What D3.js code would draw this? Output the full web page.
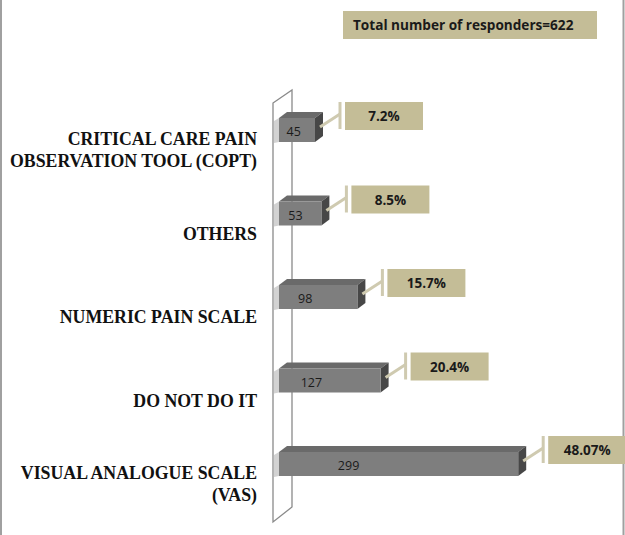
<!DOCTYPE html>
<html>
<head>
<meta charset="utf-8">
<script src="https://cdn.jsdelivr.net/npm/d3@7"></script>
<style>
  body { margin: 0; background: #fff; }
  svg { display: block; }
</style>
</head>
<body>
<div class="d3-container"></div>
<script>
const w = 625
const h = 535

// data
const categories = [
    ['CRITICAL CARE PAIN', 'OBSERVATION TOOL (COPT)'],
    ['OTHERS'],
    ['NUMERIC PAIN SCALE'],
    ['DO NOT DO IT'],
    ['VISUAL ANALOGUE SCALE', '(VAS)']
]
const counts = [45, 53, 98, 127, 299]
const percents = ['7.2%', '8.5%', '15.7%', '20.4%', '48.07%']
const total = 622

const svg = d3.select('.d3-container')
    .append('svg')
    .attr('width', w)
    .attr('height', h)

// outer frame (left/right edges)
svg.append('line').attr('x1', 1).attr('x2', 1).attr('y1', 0).attr('y2', h)
    .attr('stroke', '#a0a0a0').attr('stroke-width', 2)
svg.append('line').attr('x1', 623.5).attr('x2', 623.5).attr('y1', 0).attr('y2', h)
    .attr('stroke', '#a0a0a0').attr('stroke-width', 2)

const x = d3.scaleLinear().domain([0, 300]).range([279, 519])
const y = d3.scalePoint().domain(d3.range(categories.length)).range([130, 464])

const barH = 24
const dx = 8   // depth offsets for the 3d look
const dy = 6

// wall
svg.append('path')
    .attr('d', `M273,103 L292,90 L292,507 L273,522 Z`)
    .attr('fill', '#fff')
    .attr('stroke', '#8a8a8a')
    .attr('stroke-width', 1.3)

// total box
svg.append('rect')
    .attr('x', 343).attr('y', 11)
    .attr('width', 254).attr('height', 28)
    .attr('fill', '#c4bd97')
svg.append('text')
    .attr('x', 353).attr('y', 30)
    .attr('font-family', 'Open Sans, sans-serif')
    .attr('font-size', 13.6)
    .attr('font-weight', 'bold')
    .attr('fill', '#1a1a1a')
    .text('Total number of responders=' + total)

const rows = svg.append('g')
    .selectAll('g')
    .data(counts)
    .join('g')

// bars
rows.each(function (d, i) {
    const g = d3.select(this)
    const x0 = x(0)
    const x1 = x(d)
    const yt = y(i) - barH / 2
    // back stub into the wall
    g.append('path')
        .attr('d', `M${x0 - 5},${yt + 3} L${x0},${yt} L${x0},${yt + barH} L${x0 - 5},${yt + barH + 1} Z`)
        .attr('fill', '#d2d2d2')
    // top face
    g.append('path')
        .attr('d', `M${x0},${yt} L${x0 + dx},${yt - dy} L${x1 + dx},${yt - dy} L${x1},${yt} Z`)
        .attr('fill', '#6a6a6a')
    // side face
    g.append('path')
        .attr('d', `M${x1},${yt} L${x1 + dx},${yt - dy} L${x1 + dx},${yt + barH - dy} L${x1},${yt + barH} Z`)
        .attr('fill', '#474747')
    // front face
    g.append('rect')
        .attr('x', x0).attr('y', yt)
        .attr('width', x1 - x0).attr('height', barH)
        .attr('fill', '#7e7e7e')
    // count label
    g.append('text')
        .attr('x', x0 + 5 + (x1 - x0) * 0.27)
        .attr('y', y(i) + 6)
        .attr('text-anchor', 'middle')
        .attr('font-family', 'Open Sans, sans-serif')
        .attr('font-size', 12.5)
        .attr('fill', '#1a1a1a')
        .text(d)

    // callout
    const bx = x1 + 30
    const by = yt - 16
    g.append('path')
        .attr('d', `M${x1 + dx - 3},${yt + 9} L${bx - 5},${by + 12}`)
        .attr('stroke', '#cfcab0')
        .attr('stroke-width', 3)
        .attr('fill', 'none')
    g.append('line')
        .attr('x1', bx - 5).attr('x2', bx - 5)
        .attr('y1', by).attr('y2', by + 27)
        .attr('stroke', '#cfcab0')
        .attr('stroke-width', 3)
    g.append('rect')
        .attr('x', bx).attr('y', by)
        .attr('width', 78).attr('height', 28)
        .attr('fill', '#c4bd97')
    g.append('text')
        .attr('x', bx + 39).attr('y', by + 19)
        .attr('text-anchor', 'middle')
        .attr('font-family', 'Open Sans, sans-serif')
        .attr('font-size', 13.5)
        .attr('font-weight', 'bold')
        .attr('fill', '#1a1a1a')
        .text(percents[i])
})

// category labels
const labels = svg.append('g')
    .selectAll('text')
    .data(categories)
    .join('text')
    .attr('text-anchor', 'end')
    .attr('font-family', 'Liberation Serif, serif')
    .attr('font-weight', 'bold')
    .attr('font-size', 17.8)
    .attr('fill', '#111')

labels.each(function (lines, i) {
    const c = y(i) + 20 - (lines.length - 1) * 11
    d3.select(this).selectAll('tspan')
        .data(lines)
        .join('tspan')
        .attr('x', 257)
        .attr('y', (d, j) => c + 6 + j * 22)
        .text(d => d)
})
</script>
</body>
</html>
